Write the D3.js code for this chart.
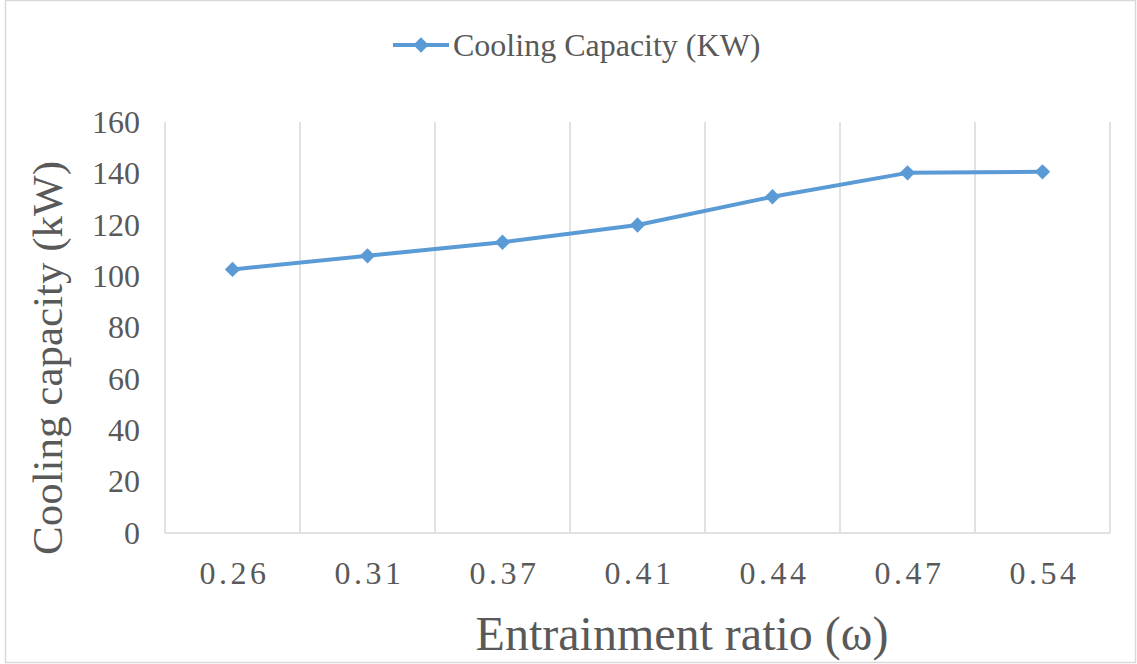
<!DOCTYPE html>
<html>
<head>
<meta charset="utf-8">
<script src="https://cdn.jsdelivr.net/npm/d3@7"></script>
<style>
  html, body { margin: 0; padding: 0; background: #ffffff; }
  svg text { font-family: "Liberation Serif", "Times New Roman", Times, "DejaVu Serif", serif; }
</style>
</head>
<body>
<svg id="chart" width="1137" height="664"></svg>
<script>
// Entrainment ratio categories and cooling capacity (kW)
const categories = ["0.26", "0.31", "0.37", "0.41", "0.44", "0.47", "0.54"];
const coolingCapacity = [102.6, 107.9, 113.2, 119.9, 130.9, 140.2, 140.6];
const yTicks = [0, 20, 40, 60, 80, 100, 120, 140, 160];
const seriesName = "Cooling Capacity (KW)";

const W = 1137, H = 664;
const margin = { left: 165, right: 27, top: 122, bottom: 131 };
const svg = d3.select("#chart");
const serif = "'Liberation Serif', 'Times New Roman', Times, serif";
const textColor = "#595959";
const gridColor = "#d9d9d9";
const lineColor = "#5b9bd5";

// outer frame
svg.append("rect")
  .attr("x", 5.5).attr("y", 0.5)
  .attr("width", W - 7).attr("height", H - 2)
  .attr("fill", "none").attr("stroke", gridColor).attr("stroke-width", 1.5);

const x = d3.scaleBand()
  .domain(categories)
  .range([margin.left, W - margin.right])
  .paddingInner(0).paddingOuter(0);

const y = d3.scaleLinear()
  .domain([0, 160])
  .range([H - margin.bottom, margin.top]);

// vertical gridlines at category boundaries
const bounds = categories.map(c => x(c)).concat([x(categories[categories.length - 1]) + x.bandwidth()]);
svg.append("g").selectAll("line").data(bounds).join("line")
  .attr("x1", d => d).attr("x2", d => d)
  .attr("y1", y(160)).attr("y2", y(0))
  .attr("stroke", gridColor).attr("stroke-width", 1.5);

// category axis baseline
svg.append("line")
  .attr("x1", x.range()[0]).attr("x2", x.range()[1])
  .attr("y1", y(0)).attr("y2", y(0))
  .attr("stroke", gridColor).attr("stroke-width", 1.5);

// y axis labels
const yAxis = d3.axisLeft(y).tickValues(yTicks).tickSize(0).tickPadding(25);
const gy = svg.append("g").attr("transform", `translate(${margin.left},0)`).call(yAxis)
  .attr("font-family", serif).attr("font-size", 32);
gy.select(".domain").remove();
gy.selectAll("text").attr("fill", textColor);

// x axis labels
const xAxis = d3.axisBottom(x).tickSize(0).tickPadding(28);
const gx = svg.append("g").attr("transform", `translate(0,${y(0)})`).call(xAxis)
  .attr("font-family", serif).attr("font-size", 32);
gx.select(".domain").remove();
gx.selectAll("text")
  .attr("fill", textColor)
  .attr("dx", "2px")
  .style("letter-spacing", "3.5px");

// series line
const line = d3.line()
  .x((d, i) => x(categories[i]) + x.bandwidth() / 2)
  .y(d => y(d));
svg.append("path")
  .datum(coolingCapacity)
  .attr("d", line)
  .attr("fill", "none")
  .attr("stroke", lineColor)
  .attr("stroke-width", 4)
  .attr("stroke-linejoin", "round")
  .attr("stroke-linecap", "round");

// diamond markers
const diamond = d3.symbol().type(d3.symbolDiamond2).size(150);
svg.append("g").selectAll("path").data(coolingCapacity).join("path")
  .attr("d", diamond)
  .attr("transform", (d, i) => `translate(${x(categories[i]) + x.bandwidth() / 2},${y(d)})`)
  .attr("fill", lineColor);

// legend
const lg = svg.append("g").attr("transform", "translate(393,45)");
lg.append("line").attr("x1", 0).attr("x2", 56).attr("y1", 0).attr("y2", 0)
  .attr("stroke", lineColor).attr("stroke-width", 4);
lg.append("path").attr("d", diamond).attr("transform", "translate(28,0)").attr("fill", lineColor);
lg.append("text").attr("x", 60).attr("y", 11)
  .attr("font-family", serif).attr("font-size", 32)
  .attr("fill", textColor)
  .text(seriesName);

// axis titles
svg.append("text")
  .attr("x", 682)
  .attr("y", 650)
  .attr("text-anchor", "middle")
  .attr("font-family", serif).attr("font-size", 48)
  .attr("fill", textColor)
  .text("Entrainment ratio (ω)");

svg.append("text")
  .attr("transform", `translate(62,358) rotate(-90)`)
  .attr("text-anchor", "middle")
  .attr("font-family", serif).attr("font-size", 43)
  .attr("fill", textColor)
  .text("Cooling capacity (kW)");
</script>
</body>
</html>
